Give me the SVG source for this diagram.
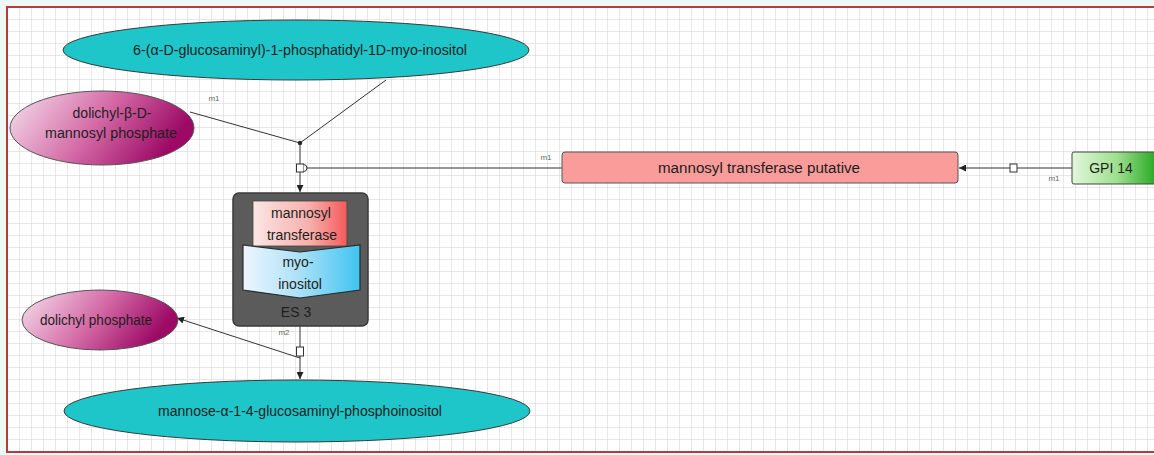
<svg xmlns="http://www.w3.org/2000/svg" width="1154" height="455" viewBox="0 0 1154 455">
<defs>
<pattern id="grid" x="7" y="7" width="12" height="12" patternUnits="userSpaceOnUse">
<path d="M0 0H12M0 0V12" fill="none" stroke="#cfcfcf" stroke-width="1"/>
</pattern>
<linearGradient id="gMag" x1="0" y1="0" x2="1" y2="0.3">
<stop offset="0" stop-color="#f6e2ee"/><stop offset="0.55" stop-color="#d46aa6"/><stop offset="1" stop-color="#9c0a66"/>
</linearGradient>
<linearGradient id="gGreen" x1="0" y1="0" x2="1" y2="0">
<stop offset="0" stop-color="#e2f7dc"/><stop offset="0.5" stop-color="#9ee08e"/><stop offset="1" stop-color="#16a016"/>
</linearGradient>
<linearGradient id="gPink" x1="0" y1="0" x2="1" y2="0">
<stop offset="0" stop-color="#fbe6e4"/><stop offset="0.6" stop-color="#f7b0ac"/><stop offset="1" stop-color="#f55a5a"/>
</linearGradient>
<linearGradient id="gBlue" x1="0" y1="0" x2="1" y2="0">
<stop offset="0" stop-color="#eef6ff"/><stop offset="0.5" stop-color="#a8e0f8"/><stop offset="1" stop-color="#40c4f0"/>
</linearGradient>
<marker id="arr" viewBox="0 0 10 10" refX="10" refY="5" markerWidth="7" markerHeight="7" orient="auto" markerUnits="userSpaceOnUse">
<path d="M0 0L10 5L0 10z" fill="#222"/>
</marker>
<style>
text{font-family:"Liberation Sans",Arial,sans-serif;fill:#1e1e1e;text-anchor:middle}
.lbl{font-size:14px}
.sm{font-size:8px;fill:#666}
.ln{fill:none;stroke:#333;stroke-width:1}
.cyan{fill:#1fc6c9;stroke:#3a3a3a;stroke-width:1}
.mk{fill:#fff;stroke:#333;stroke-width:1}
</style>
</defs>
<rect x="0" y="0" width="1154" height="455" fill="#eef8f4"/>
<rect x="7" y="7" width="1150" height="445" fill="#fff"/>
<rect x="7" y="7" width="1150" height="445" fill="url(#grid)"/>
<rect x="7" y="7" width="1150" height="445" fill="none" stroke="#b83a3a" stroke-width="2"/>

<g id="connectors">
<line class="ln" x1="190" y1="112" x2="300" y2="143"/>
<line class="ln" x1="386" y1="80" x2="300" y2="143"/>
<circle cx="300" cy="143" r="2.2" fill="#222"/>
<line class="ln" x1="300" y1="143" x2="300" y2="164"/>
<line class="ln" x1="300" y1="172" x2="300" y2="192" marker-end="url(#arr)"/>
<rect class="mk" x="296.5" y="164" width="7" height="8"/>
<path class="mk" d="M303.5 164.5A3.5 3.5 0 0 1 303.5 171.5"/>
<line class="ln" x1="307" y1="168" x2="562" y2="168"/>
<text class="sm" x="214" y="101">m1</text>
<text class="sm" x="546" y="160">m1</text>
<line class="ln" x1="1072" y1="168" x2="1017" y2="168"/>
<rect class="mk" x="1010" y="164" width="7" height="8"/>
<line class="ln" x1="1010" y1="168" x2="959" y2="168" marker-end="url(#arr)"/>
<text class="sm" x="1054" y="181">m1</text>
<line class="ln" x1="300" y1="326" x2="300" y2="347"/>
<rect class="mk" x="296.5" y="347" width="7" height="9"/>
<line class="ln" x1="300" y1="356" x2="300" y2="379" marker-end="url(#arr)"/>
<line class="ln" x1="300" y1="358" x2="177" y2="318" marker-end="url(#arr)"/>
<text class="sm" x="284" y="335">m2</text>
</g>

<g id="glcn-pi">
<ellipse class="cyan" cx="296" cy="50" rx="233" ry="30"/>
<text class="lbl" x="300" y="55" textLength="334" lengthAdjust="spacingAndGlyphs">6-(α-D-glucosaminyl)-1-phosphatidyl-1D-myo-inositol</text>
</g>

<g id="dol-man-p">
<ellipse cx="102" cy="128" rx="92" ry="37" fill="url(#gMag)" stroke="#555" stroke-width="1"/>
<text class="lbl" x="112" y="118">dolichyl-β-D-</text>
<text class="lbl" x="111" y="138" textLength="132" lengthAdjust="spacingAndGlyphs">mannosyl phosphate</text>
</g>

<g id="enzyme">
<rect x="562" y="152" width="396" height="31" rx="3" fill="#f99c9a" stroke="#555" stroke-width="1"/>
<text class="lbl" x="759" y="173" textLength="202" lengthAdjust="spacingAndGlyphs">mannosyl transferase putative</text>
</g>

<g id="gpi14">
<rect x="1072" y="152" width="90" height="32" rx="2" fill="url(#gGreen)" stroke="#444" stroke-width="1"/>
<text class="lbl" x="1111" y="173">GPI 14</text>
</g>

<g id="es3">
<rect x="233" y="193" width="135" height="133" rx="6" fill="#5b5b5b" stroke="#3a3a3a" stroke-width="1.5"/>
<rect x="253" y="201" width="94" height="45" fill="url(#gPink)" stroke="#444" stroke-width="0.8"/>
<text class="lbl" x="301" y="218">mannosyl</text>
<text class="lbl" x="302" y="240">transferase</text>
<path d="M243 245L300 252L360 245L360 290L300 298L243 290z" fill="url(#gBlue)" stroke="#2a2a2a" stroke-width="1.2"/>
<text class="lbl" x="298" y="267">myo-</text>
<text class="lbl" x="300" y="289">inositol</text>
<text class="lbl" x="296" y="317">ES 3</text>
</g>

<g id="dol-p">
<ellipse cx="100" cy="320" rx="78" ry="30" fill="url(#gMag)" stroke="#555" stroke-width="1"/>
<text class="lbl" x="96" y="325" textLength="112" lengthAdjust="spacingAndGlyphs">dolichyl phosphate</text>
</g>

<g id="man-glcn-pi">
<ellipse class="cyan" cx="297" cy="411" rx="233" ry="31"/>
<text class="lbl" x="300" y="416" textLength="284" lengthAdjust="spacingAndGlyphs">mannose-α-1-4-glucosaminyl-phosphoinositol</text>
</g>
</svg>
